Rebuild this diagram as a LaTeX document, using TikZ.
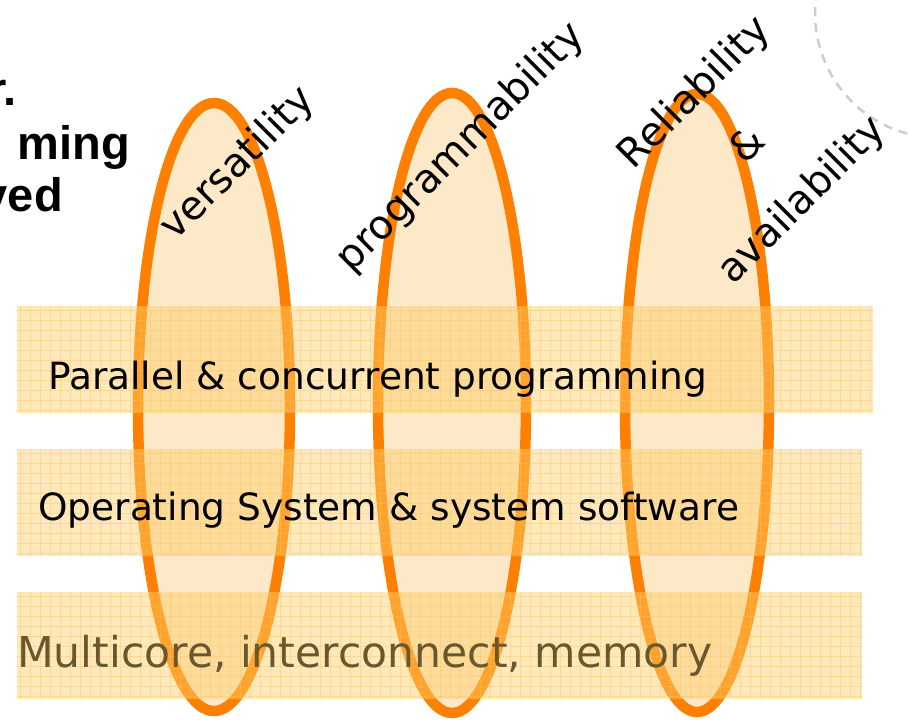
\documentclass[tikz,border=0pt]{standalone}
\usepackage{fontspec}
\setmainfont{DejaVu Sans}
\newfontfamily\titlefont{Liberation Sans}
\usepackage{tikz}
\definecolor{ovalorange}{RGB}{255,128,0}
\definecolor{ovalfill}{RGB}{253,232,200}
\definecolor{bandorange}{RGB}{255,204,102}
\definecolor{gridorange}{RGB}{255,196,90}
\definecolor{hwtext}{RGB}{105,88,45}
\definecolor{arcgray}{RGB}{205,205,205}

\begin{document}
\begin{tikzpicture}[x=1pt, y=-1pt,
		oval/.style={draw=ovalorange, fill=ovalfill, line width=10.5pt},
		band/.style={fill=bandorange, fill opacity=0.45},
		bandgrid/.style={draw=gridorange, draw opacity=0.4, line width=1pt},
		layer/.style={anchor=base west, inner sep=0pt, font=\fontsize{37.5}{44}\selectfont},
		quality/.style={rotate=45, inner sep=0pt, align=center, font=\fontsize{40}{76}\selectfont},
		title/.style={anchor=base east, inner sep=0pt, font=\titlefont\bfseries\fontsize{47}{53}\selectfont}]
		\useasboundingbox (0,0) rectangle (910,723);
		\draw [arcgray, line width=2.5pt, dash pattern=on 9pt off 7pt] (940,13) ++(190:125) arc [start angle=190, end angle=95, radius=125];
		\foreach \cx/\cy/\rx/\ry in {214/407/76/304, 452/403/74/310, 697/403/72/309}{
			\draw [oval] (\cx,\cy) ellipse [x radius=\rx, y radius=\ry];
		}
		\foreach \y/\w in {306/873, 449/862, 592/862}{
			\fill [band] (17,\y) rectangle (\w,\y+107);
			\foreach \gx in {20,30,...,\w}
				\draw [bandgrid] (\gx,\y) -- (\gx,\y+107);
			\foreach \gy in {4,14,...,104}
				\draw [bandgrid] (17,\y+\gy) -- (\w,\y+\gy);
		}
		\node [layer] (parallel) at (48,389) {Parallel \& concurrent programming};
		\node [layer] (os) at (38,520) {Operating System \& system software};
		\node [layer, text=hwtext, font=\fontsize{42.5}{48}\selectfont] (hw) at (17,667) {Multicore, interconnect, memory};
		\node [quality] (versatility) at (238,164) {versatility};
		\node [quality] (programmability) at (461,148) {programmability};
		\node [quality] (reliability) at (749,147) {Reliability\\\&\\availability};
		\node [title] (titleA) at (17,105) {r.};
		\node [title] (titleB) at (130,159) {ming};
		\node [title] (titleC) at (63,211) {ved};
	\end{tikzpicture}
\end{document}
